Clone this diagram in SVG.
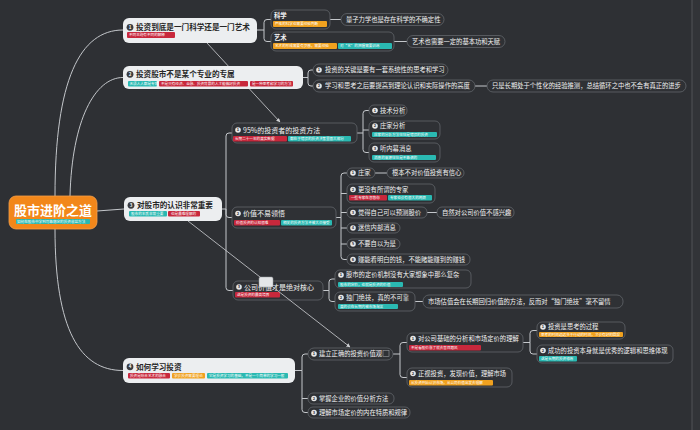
<svg xmlns="http://www.w3.org/2000/svg" width="700" height="430" viewBox="0 0 700 430">
<defs>
<style>
.ln{fill:none;stroke:#c4c7cb;stroke-width:1}
.rl{fill:none;stroke:#d0d2d5;stroke-width:0.8}
.lt{fill:#eceef0}
.dk{fill:#2f3135;stroke:#62666b;stroke-width:0.8}
text{font-family:"Noto Sans CJK SC","Noto Sans",sans-serif}
.t1{font-size:7.6px;font-weight:bold;fill:#262626}
.t2{font-size:6.3px;fill:#f2f2f2}
.tg{font-size:3.6px;fill:#ffffff}
.red{fill:#c8283c}
.org{fill:#f0a11f}
.tea{fill:#2ab9b2}
.cw{fill:#e8e8e8}
.cb{fill:#3a3c40}
.nw{font-size:4px;font-weight:bold;fill:#2f3135;text-anchor:middle}
.nb{font-size:4.5px;font-weight:bold;fill:#ffffff;text-anchor:middle}
</style>
<marker id="ar" viewBox="0 0 10 10" refX="9" refY="5" markerWidth="5" markerHeight="5" orient="auto">
<path d="M0,0 L10,5 L0,10 z" fill="#d0d2d5"/>
</marker>
</defs>
<rect x="0" y="0" width="700" height="430" fill="#2e3034"/>
<rect x="692" y="0" width="8" height="430" fill="#323438"/>
<line x1="692" y1="0" x2="692" y2="430" stroke="#505357" stroke-width="1"/>

<g id="connectors">
<path class="ln" d="M55,196 C55,80 80,30 123,30"/>
<path class="ln" d="M70,196 C72,120 95,77.5 123,77.5"/>
<path class="ln" d="M97,211 L124,209"/>
<path class="ln" d="M55,229 C55,330 80,370.5 123,370.5"/>
<path class="ln" d="M257,30 H264 M264,30 V22.5 Q264,19.5 267,19.5 H271 M264,30 V38.5 Q264,41.5 267,41.5 H271"/>
<path class="ln" d="M330,19.5 H341 M394,41.5 H407"/>
<path class="ln" d="M303,77.5 H308 M308,77.5 V73 Q308,70 311,70 H313 M308,77.5 V83 Q308,86 311,86 H313 M475,86 H487"/>
<path class="ln" d="M222,209 H226 M226,209 V136 Q226,133 229,133 H232 M226,209 V214.5 Q226,217.5 229,217.5 H232 M226,209 V287.5 Q226,290.5 229,290.5 H233"/>
<path class="ln" d="M357,133 H363 M363,133 V113.5 Q363,110.5 366,110.5 H369 M363,130 H369 M363,133 V149.5 Q363,152.5 366,152.5 H369"/>
<path class="ln" d="M335,217.5 H341 M341,217.5 V176 Q341,173 344,173 H347 M341,193.5 H347 M341,212.5 H347 M341,228 H347 M341,244 H347 M341,217.5 V256.5 Q341,259.5 344,259.5 H347 M375,173 H387 M427,212.5 H437"/>
<path class="ln" d="M323,290.5 H329 M329,290.5 V282 Q329,279 332,279 H335 M329,290.5 V298.5 Q329,301.5 332,301.5 H335 M413,301.5 H423"/>
<path class="ln" d="M295,370.5 H302 M302,370.5 V357 Q302,354 305,354 H308 M302,398.5 H308 M302,370.5 V409.5 Q302,412.5 305,412.5 H308"/>
<path class="ln" d="M393,354 H400 M400,354 V345.5 Q400,342.5 403,342.5 H407 M400,354 V374.5 Q400,377.5 403,377.5 H407"/>
<path class="ln" d="M523,342.5 H530 M530,342.5 V333.5 Q530,330.5 533,330.5 H537 M530,342.5 V351 Q530,354 533,354 H537"/>
<path class="rl" d="M207,43 L280,122" marker-end="url(#ar)"/>
</g>

<g id="root">
<rect x="9" y="196" width="88" height="33" rx="7" fill="#f2871a" stroke="#f6a04a" stroke-width="0.8"/>
<text x="53" y="214.5" text-anchor="middle" style="font-size:13px;font-weight:bold;fill:#ffffff">股市进阶之道</text>
<rect class="tea" x="16" y="219" width="74" height="5" rx="1"/>
<text class="tg" x="17" y="222.6">如何在股市中学到可靠稳定的投资收益方法</text>
</g>

<g id="b1">
<rect class="lt" x="123" y="18" width="134" height="25" rx="6"/>
<circle class="cb" cx="130" cy="27.3" r="3.4"/><text class="nb" x="130" y="28.9">1</text>
<text class="t1" x="136" y="30">投资到底是一门科学还是一门艺术</text>
<rect class="red" x="127" y="32" width="48" height="6" rx="1"/>
<text class="tg" x="129" y="36.3">不同主题有不同的解释</text>
</g>
<g id="b1-science">
<rect class="dk" x="271" y="10" width="59" height="19" rx="5"/>
<text class="t2" x="274" y="18" style="font-weight:bold">科学</text>
<rect class="org" x="273" y="21" width="54" height="6" rx="1"/>
<text class="tg" x="275" y="25.2">严格的科学也需要经验判断</text>
</g>
<g id="b1-science-leaf">
<rect class="dk" x="341" y="13.5" width="103" height="12" rx="6"/>
<text class="t2" x="346" y="21.8">量子力学也是存在科学的不确定性</text>
</g>
<g id="b1-art">
<rect class="dk" x="271" y="32" width="123" height="19" rx="5"/>
<text class="t2" x="274" y="40" style="font-weight:bold">艺术</text>
<rect class="org" x="273" y="43" width="64" height="6" rx="1"/>
<text class="tg" x="275" y="47.2">艺术的形成需要有灵感，需要经验</text>
<rect class="tea" x="338" y="43" width="54" height="6" rx="1"/>
<text class="tg" x="340" y="47.2">对“艺”的把握需要训练</text>
</g>
<g id="b1-art-leaf">
<rect class="dk" x="407" y="35.5" width="98" height="12" rx="6"/>
<text class="t2" x="412" y="43.8">艺术也需要一定的基本功和天赋</text>
</g>

<g id="b2">
<rect class="lt" x="123" y="66" width="180" height="23" rx="6"/>
<circle class="cb" cx="130" cy="74.3" r="3.4"/><text class="nb" x="130" y="75.9">2</text>
<text class="t1" x="136" y="77">投资股市不是某个专业的专属</text>
<rect class="tea" x="128" y="81" width="29" height="5.5" rx="1"/>
<text class="tg" x="129.5" y="85">无须人人都是专家</text>
<rect class="red" x="159" y="81" width="89" height="5.5" rx="1"/>
<text class="tg" x="161" y="85">不是只有经济、金融、投资背景的人才能做好投资</text>
<rect class="red" x="250" y="81" width="43" height="5.5" rx="1"/>
<text class="tg" x="252" y="85">是一种思考和学习的方法</text>
</g>
<g id="b2-1">
<rect class="dk" x="313" y="64" width="135" height="12" rx="6"/>
<circle class="cw" cx="319" cy="70" r="2.8"/><text class="nw" x="319" y="71.4">1</text>
<text class="t2" x="325" y="72.3">投资的关键是要有一套系统性的思考和学习</text>
</g>
<g id="b2-2">
<rect class="dk" x="313" y="80" width="162" height="12" rx="6"/>
<circle class="cw" cx="319" cy="86" r="2.8"/><text class="nw" x="319" y="87.4">2</text>
<text class="t2" x="325" y="88.3">学习和思考之后要提高到理论认识和实际操作的高度</text>
</g>
<g id="b2-2-leaf">
<rect class="dk" x="487" y="80" width="199" height="12" rx="6"/>
<text class="t2" x="492" y="88.3">只是长期处于个性化的经验推测，总结循环之中也不会有真正的进步</text>
</g>

<g id="b3">
<rect class="lt" x="124" y="197" width="98" height="24" rx="6"/>
<circle class="cb" cx="131" cy="205.3" r="3.4"/><text class="nb" x="131" y="206.9">3</text>
<text class="t1" x="137" y="208">对股市的认识非常重要</text>
<rect class="tea" x="129" y="211" width="38" height="5.5" rx="1"/>
<text class="tg" x="131" y="215">股市的本质非常重要</text>
<rect class="red" x="168" y="211" width="32" height="5.5" rx="1"/>
<text class="tg" x="171" y="215">也是最难理解的</text>
</g>
<g id="b3-1">
<rect class="dk" x="232" y="123" width="125" height="20" rx="5"/>
<circle class="cw" cx="238" cy="130" r="2.8"/><text class="nw" x="238" y="131.4">1</text>
<text class="t2" x="243" y="132.5" style="font-size:7px">95%的投资者的投资方法</text>
<rect class="red" x="233" y="136" width="54" height="5.5" rx="1"/>
<text class="tg" x="235" y="140">长期二十一年的真实数据</text>
<rect class="tea" x="288" y="136" width="63" height="5.5" rx="1"/>
<text class="tg" x="290" y="140">都在于错误的投资决策里面大部分</text>
</g>
<g id="b3-1-1">
<rect class="dk" x="369" y="105" width="38" height="11" rx="5"/>
<circle class="cw" cx="375" cy="110.5" r="2.8"/><text class="nw" x="375" y="111.9">1</text>
<text class="t2" x="380" y="112.8">技术分析</text>
</g>
<g id="b3-1-2">
<rect class="dk" x="369" y="121" width="71" height="18" rx="5"/>
<circle class="cw" cx="375" cy="126" r="2.8"/><text class="nw" x="375" y="127.4">2</text>
<text class="t2" x="380" y="128.3">庄家分析</text>
<rect class="tea" x="372" y="132" width="65" height="5" rx="1"/>
<text class="tg" x="374" y="135.7">庄家的分析方法往往是错误的投资</text>
</g>
<g id="b3-1-3">
<rect class="dk" x="369" y="143" width="71" height="19" rx="5"/>
<circle class="cw" cx="375" cy="148.5" r="2.8"/><text class="nw" x="375" y="149.9">3</text>
<text class="t2" x="380" y="150.8">听内幕消息</text>
<rect class="tea" x="372" y="155" width="64" height="5" rx="1"/>
<text class="tg" x="374" y="158.7">消息的来源往往是不靠谱的</text>
</g>
<g id="b3-2">
<rect class="dk" x="232" y="207" width="104" height="21" rx="5"/>
<circle class="cw" cx="238" cy="213.5" r="2.8"/><text class="nw" x="238" y="214.9">2</text>
<text class="t2" x="243" y="216" style="font-size:7px">价值不易领悟</text>
<rect class="red" x="234" y="220" width="46" height="5.5" rx="1"/>
<text class="tg" x="236" y="224">价值投资的认知很难</text>
<rect class="tea" x="281" y="220" width="51" height="5.5" rx="1"/>
<text class="tg" x="283" y="224">相关的投资方法不被大众接受</text>
</g>
<g id="b3-2-1">
<rect class="dk" x="347" y="168" width="28" height="10" rx="5"/>
<circle class="cw" cx="353" cy="173" r="2.8"/><text class="nw" x="353" y="174.4">1</text>
<text class="t2" x="358" y="175.3">庄家</text>
</g>
<g id="b3-2-1-leaf">
<rect class="dk" x="387" y="168" width="77" height="10" rx="5"/>
<text class="t2" x="392" y="175.3">根本不对价值投资有信心</text>
</g>
<g id="b3-2-2">
<rect class="dk" x="347" y="184" width="88" height="19" rx="5"/>
<circle class="cw" cx="353" cy="189.5" r="2.8"/><text class="nw" x="353" y="190.9">2</text>
<text class="t2" x="358" y="191.8">更没有所谓的专家</text>
<rect class="red" x="349" y="195" width="38" height="5.5" rx="1"/>
<text class="tg" x="351" y="199">一些专家在忽悠你</text>
<rect class="tea" x="388" y="195" width="44" height="5.5" rx="1"/>
<text class="tg" x="390" y="199">专家也会有很大的局限</text>
</g>
<g id="b3-2-3">
<rect class="dk" x="347" y="207" width="80" height="11" rx="5"/>
<circle class="cw" cx="353" cy="212.5" r="2.8"/><text class="nw" x="353" y="213.9">3</text>
<text class="t2" x="358" y="214.8">觉得自己可以预测股价</text>
</g>
<g id="b3-2-3-leaf">
<rect class="dk" x="437" y="207" width="77" height="11" rx="5"/>
<text class="t2" x="442" y="214.8">自然对公司价值不感兴趣</text>
</g>
<g id="b3-2-4">
<rect class="dk" x="347" y="223" width="53" height="10" rx="5"/>
<circle class="cw" cx="353" cy="228" r="2.8"/><text class="nw" x="353" y="229.4">4</text>
<text class="t2" x="358" y="230.3">迷信内部消息</text>
</g>
<g id="b3-2-5">
<rect class="dk" x="347" y="239" width="53" height="10" rx="5"/>
<circle class="cw" cx="353" cy="244" r="2.8"/><text class="nw" x="353" y="245.4">5</text>
<text class="t2" x="358" y="246.3">不要自以为是</text>
</g>
<g id="b3-2-6">
<rect class="dk" x="347" y="254" width="123" height="11" rx="5"/>
<circle class="cw" cx="353" cy="259.5" r="2.8"/><text class="nw" x="353" y="260.9">6</text>
<text class="t2" x="358" y="261.8">赚能看明白的钱，不能赌能赚到的赚钱</text>
</g>
<g id="b3-3">
<rect class="dk" x="233" y="281" width="90" height="19" rx="5"/>
<circle class="cw" cx="239" cy="287" r="2.8"/><text class="nw" x="239" y="288.4">3</text>
<text class="t2" x="244" y="289.5" style="font-size:7px">公司价值才是绝对核心</text>
<rect class="red" x="235" y="292" width="45" height="5.5" rx="1"/>
<text class="tg" x="237" y="296">这是投资的最高境界</text>
</g>
<g id="b3-3-1">
<rect class="dk" x="335" y="270" width="136" height="18" rx="5"/>
<circle class="cw" cx="341" cy="275" r="2.8"/><text class="nw" x="341" y="276.4">1</text>
<text class="t2" x="346" y="277.3">股市的定价机制没有大家想象中那么复杂</text>
<rect class="tea" x="338" y="282" width="65" height="5" rx="1"/>
<text class="tg" x="340" y="285.7">股市的定价，也就是投资的价值</text>
</g>
<g id="b3-3-2">
<rect class="dk" x="335" y="292" width="80" height="19" rx="5"/>
<circle class="cw" cx="341" cy="297.5" r="2.8"/><text class="nw" x="341" y="298.9">2</text>
<text class="t2" x="346" y="299.8">独门绝技，真的不可靠</text>
<rect class="tea" x="338" y="304" width="60" height="5" rx="1"/>
<text class="tg" x="340" y="307.7">真的会在长期内被市场淘汰</text>
</g>
<g id="b3-3-2-leaf">
<rect class="dk" x="423" y="295" width="200" height="13" rx="6"/>
<text class="t2" x="428" y="304">市场估值会在长期回归价值的方法，反而对“独门绝技”毫不留情</text>
</g>

<g id="b4">
<rect class="lt" x="123" y="358" width="172" height="25" rx="6"/>
<circle class="cb" cx="130" cy="366.8" r="3.4"/><text class="nb" x="130" y="368.4">4</text>
<text class="t1" x="136" y="369.5">如何学习投资</text>
<rect class="red" x="128" y="373" width="42" height="5.5" rx="1"/>
<text class="tg" x="130" y="377">投资是综合艺术的融合</text>
<rect class="org" x="172" y="373" width="33" height="5.5" rx="1"/>
<text class="tg" x="174" y="377">学会投资需要理论</text>
<rect class="tea" x="207" y="373" width="81" height="5.5" rx="1"/>
<text class="tg" x="209" y="377">它是投资学习的基础，不是一个简单的学习一般</text>
</g>
<g id="b4-1">
<rect class="dk" x="308" y="348" width="85" height="12" rx="6"/>
<circle class="cw" cx="314" cy="354" r="2.8"/><text class="nw" x="314" y="355.4">1</text>
<text class="t2" x="319" y="356.3">建立正确的投资价值观</text>
<rect x="383" y="350.5" width="6" height="6" fill="none" stroke="#9a9da1" stroke-width="0.6"/>
</g>
<g id="b4-1-1">
<rect class="dk" x="407" y="333" width="116" height="19" rx="5"/>
<circle class="cw" cx="413" cy="338.5" r="2.8"/><text class="nw" x="413" y="339.9">1</text>
<text class="t2" x="418" y="340.8">对公司基础的分析和市场定价的理解</text>
<rect class="red" x="409" y="345" width="72" height="5.5" rx="1"/>
<text class="tg" x="411" y="349">不是看股价涨了就去盲目跟风</text>
</g>
<g id="b4-1-1-1">
<rect class="dk" x="537" y="322" width="88" height="17" rx="5"/>
<circle class="cw" cx="543" cy="327" r="2.8"/><text class="nw" x="543" y="328.4">1</text>
<text class="t2" x="548" y="329.3">投资是思考的过程</text>
<rect class="org" x="539" y="332" width="84" height="5" rx="1"/>
<text class="tg" x="541" y="335.7">思考的时间远远多于行动的时间，才会有好的回报</text>
</g>
<g id="b4-1-1-2">
<rect class="dk" x="537" y="345" width="136" height="18" rx="5"/>
<circle class="cw" cx="543" cy="350.5" r="2.8"/><text class="nw" x="543" y="351.9">2</text>
<text class="t2" x="548" y="352.8">成功的投资本身就是优秀的逻辑和思维体现</text>
<rect class="tea" x="539" y="356" width="38" height="5.5" rx="1"/>
<text class="tg" x="541" y="360">这是长期的投资修炼</text>
</g>
<g id="b4-1-2">
<rect class="dk" x="407" y="368" width="105" height="19" rx="5"/>
<circle class="cw" cx="413" cy="373.5" r="2.8"/><text class="nw" x="413" y="374.9">2</text>
<text class="t2" x="418" y="375.8">正视投资，发现价值，理解市场</text>
<rect class="org" x="409" y="380" width="84" height="5.5" rx="1"/>
<text class="tg" x="411" y="384">从投资开始认识市场，从公司价值出发去理解</text>
</g>
<g id="b4-2">
<rect class="dk" x="308" y="393" width="86" height="11" rx="5"/>
<circle class="cw" cx="314" cy="398.5" r="2.8"/><text class="nw" x="314" y="399.9">2</text>
<text class="t2" x="319" y="400.8">掌握企业的价值分析方法</text>
</g>
<g id="b4-3">
<rect class="dk" x="308" y="407" width="102" height="11" rx="5"/>
<circle class="cw" cx="314" cy="412.5" r="2.8"/><text class="nw" x="314" y="413.9">3</text>
<text class="t2" x="319" y="414.8">理解市场定价的内在特质和规律</text>
</g>

<g id="relations">
<path class="rl" d="M188,221 L350,347" marker-end="url(#ar)"/>
<rect x="259" y="277" width="14" height="10" rx="1.5" fill="#e4e6e8" stroke="#9a9da1" stroke-width="0.5"/>
</g>
</svg>
